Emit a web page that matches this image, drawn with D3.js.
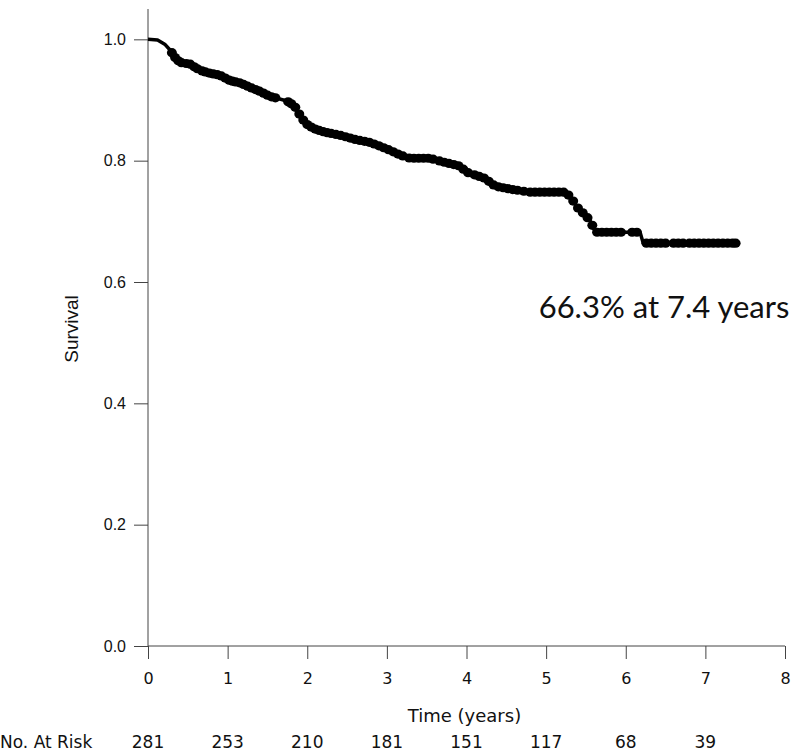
<!DOCTYPE html>
<html>
<head>
<meta charset="utf-8">
<script src="https://cdn.jsdelivr.net/npm/d3@7"></script>
<style>
  html, body { margin: 0; padding: 0; background: #fff; }
  svg { display: block; }
</style>
</head>
<body>
<svg id="chart" width="800" height="756"></svg>
<script>
// Kaplan-Meier curve, traced (time in years, survival)
const curveTimes = [0, 0.12, 0.21, 0.28, 0.34, 0.40, 0.53, 0.65, 0.78, 0.90, 1.03, 1.16, 1.28, 1.41, 1.53, 1.70, 1.78, 1.85, 1.93, 2.01, 2.10, 2.22, 2.41, 2.60, 2.79, 2.91, 3.04, 3.17, 3.29, 3.54, 3.73, 3.92, 4.00, 4.23, 4.36, 4.55, 4.80, 5.24, 5.30, 5.40, 5.49, 5.55, 5.62, 6.18, 6.22, 7.40];
const curveSurv  = [1.0, 0.999, 0.992, 0.982, 0.970, 0.962, 0.959, 0.949, 0.944, 0.941, 0.932, 0.928, 0.921, 0.914, 0.906, 0.900, 0.896, 0.888, 0.870, 0.858, 0.852, 0.847, 0.842, 0.835, 0.830, 0.824, 0.817, 0.809, 0.804, 0.804, 0.797, 0.791, 0.781, 0.771, 0.758, 0.753, 0.748, 0.748, 0.741, 0.722, 0.710, 0.702, 0.682, 0.682, 0.664, 0.664];
// Censoring marks (years)
const censorTimes = [0.30, 0.34, 0.38, 0.42, 0.48, 0.53, 0.58, 0.62, 0.68, 0.72, 0.77, 0.82, 0.87, 0.92, 0.97, 1.02, 1.06, 1.10, 1.15, 1.20, 1.25, 1.30, 1.35, 1.40, 1.45, 1.50, 1.55, 1.60,
  1.76, 1.80, 1.85, 1.90, 1.95, 2.00, 2.05, 2.10, 2.15, 2.20, 2.25, 2.30, 2.36, 2.42, 2.48, 2.54, 2.60, 2.66, 2.72, 2.78, 2.84, 2.90, 2.96, 3.02, 3.08, 3.14, 3.20, 3.28, 3.34, 3.40, 3.46, 3.52, 3.58, 3.66, 3.72, 3.78, 3.84, 3.90, 3.96, 4.02, 4.10, 4.16, 4.22, 4.28, 4.34, 4.40, 4.46, 4.52, 4.58, 4.64, 4.72, 4.80, 4.86, 4.92, 4.98, 5.04, 5.10, 5.16, 5.22, 5.28, 5.34, 5.40, 5.46, 5.52, 5.58, 5.64, 5.70, 5.76, 5.82, 5.88, 5.94,
  6.08, 6.14, 6.26, 6.32, 6.38, 6.44, 6.50, 6.60, 6.66, 6.72, 6.80, 6.86, 6.92, 6.98, 7.04, 7.10, 7.16, 7.22, 7.28, 7.34, 7.38];
const xTicks = [0, 1, 2, 3, 4, 5, 6, 7, 8];
const yTicks = [0.0, 0.2, 0.4, 0.6, 0.8, 1.0];
const atRiskYears = [0, 1, 2, 3, 4, 5, 6, 7];
const atRiskCounts = [281, 253, 210, 181, 151, 117, 68, 39];
const annotationText = "66.3% at 7.4 years";

const svg = d3.select("#chart");
const x = d3.scaleLinear().domain([0, 8]).range([148, 785]);
const y = d3.scaleLinear().domain([0, 1.05]).range([646, 9]);

const axisColor = "#444";
// Y axis
const yAxis = d3.axisLeft(y).tickValues(yTicks).tickFormat(d3.format(".1f")).tickSize(14).tickPadding(8);
const gy = svg.append("g").attr("transform", `translate(${x(0)},0)`).call(yAxis);
gy.select(".domain").attr("stroke", axisColor).attr("d", `M0,${y(1.05)}V${y(0)}`);
gy.selectAll(".tick line").attr("stroke", axisColor);
gy.selectAll(".tick text").attr("font-family", "'Liberation Sans', Arial, sans-serif").attr("font-size", 16).attr("fill", "#111");

// X axis
const xAxis = d3.axisBottom(x).tickValues(xTicks).tickFormat(d3.format("d")).tickSize(13).tickPadding(14);
const gx = svg.append("g").attr("transform", `translate(0,${y(0)})`).call(xAxis);
gx.select(".domain").attr("stroke", axisColor).attr("d", `M${x(0)},0H${x(8)}`);
gx.selectAll(".tick line").attr("stroke", axisColor);
gx.selectAll(".tick text").attr("font-family", "'DejaVu Sans', Verdana, sans-serif").attr("font-size", 16).attr("fill", "#111");

// Axis titles
svg.append("text").attr("x", x(4) - 2).attr("y", 722).attr("text-anchor", "middle")
  .attr("font-family", "'DejaVu Sans', Verdana, sans-serif").attr("font-size", 18).attr("fill", "#111").text("Time (years)");
svg.append("text").attr("transform", `translate(78,329) rotate(-90)`).attr("text-anchor", "middle")
  .attr("font-family", "'Liberation Sans', Arial, sans-serif").attr("font-size", 19).attr("fill", "#111").text("Survival");

// At risk row
svg.append("text").attr("x", 0).attr("y", 748).attr("font-family", "'DejaVu Sans', Verdana, sans-serif")
  .attr("font-size", 17).attr("fill", "#111").text("No. At Risk");
svg.selectAll("text.risk").data(atRiskYears).enter().append("text").attr("class", "risk")
  .attr("x", d => x(d)).attr("y", 748).attr("text-anchor", "middle")
  .attr("font-family", "'DejaVu Sans', Verdana, sans-serif").attr("font-size", 17).attr("fill", "#111")
  .text((d, i) => atRiskCounts[i]);

// Curve
const pts = curveTimes.map((t, i) => [t, curveSurv[i]]);
const line = d3.line().x(d => x(d[0])).y(d => y(d[1]));
svg.append("path").datum(pts).attr("d", line).attr("fill", "none").attr("stroke", "#000")
  .attr("stroke-width", 3.5).attr("stroke-linejoin", "round");

const survAt = t => {
  const i = d3.bisectRight(curveTimes, t);
  if (i <= 0) return curveSurv[0];
  if (i >= curveTimes.length) return curveSurv[curveSurv.length - 1];
  const t0 = curveTimes[i - 1], t1 = curveTimes[i];
  return d3.interpolateNumber(curveSurv[i - 1], curveSurv[i])((t - t0) / (t1 - t0));
};
svg.selectAll("ellipse.cens").data(censorTimes).enter().append("ellipse").attr("class", "cens")
  .attr("cx", d => x(d)).attr("cy", d => y(survAt(d))).attr("rx", 5).attr("ry", 4.6)
  .attr("fill", "#000");

// Annotation
svg.append("text").attr("x", 664).attr("y", 318).attr("text-anchor", "middle")
  .attr("font-family", "Lato, 'Open Sans', sans-serif").attr("font-size", 31).attr("fill", "#111")
  .text(annotationText);
</script>
</body>
</html>
